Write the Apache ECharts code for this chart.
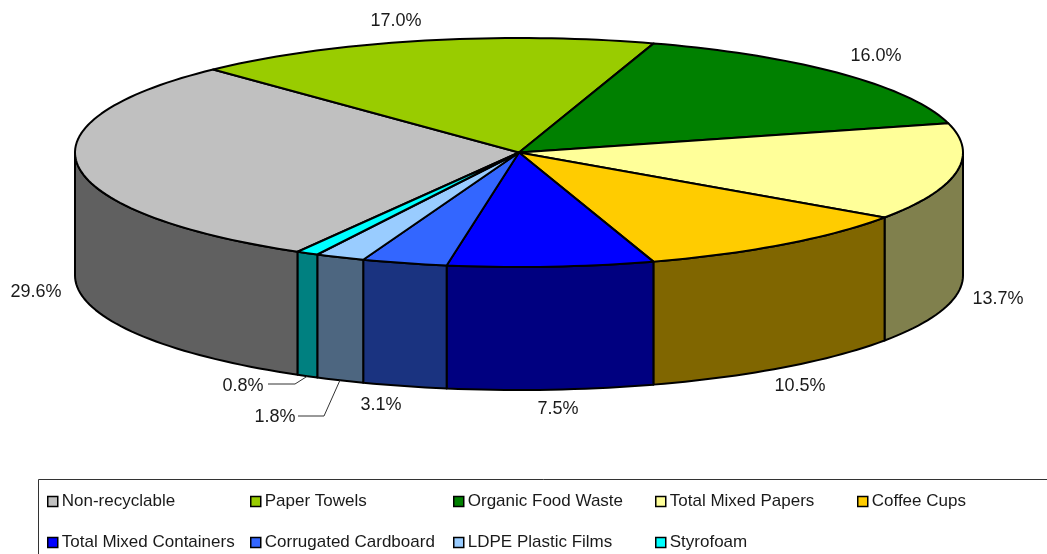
<!DOCTYPE html>
<html>
<head>
<meta charset="utf-8">
<style>html,body{margin:0;padding:0;background:#fff}#chart{width:1047px;height:554px}</style>
<script src="https://cdn.jsdelivr.net/npm/echarts@6/dist/echarts.min.js"></script>
</head>
<body>
<div id="chart"></div>
<script>
var categories = ['Non-recyclable', 'Paper Towels', 'Organic Food Waste', 'Total Mixed Papers', 'Coffee Cups',
    'Total Mixed Containers', 'Corrugated Cardboard', 'LDPE Plastic Films', 'Styrofoam'];
var shares = [29.6, 17.0, 16.0, 13.7, 10.5, 7.5, 3.1, 1.8, 0.8];
var topColors = ['#c0c0c0', '#99cc00', '#008000', '#ffff99', '#ffcc00', '#0000ff', '#3366ff', '#99ccff', '#00ffff'];
var sideColors = ['#606060', '#4d6600', '#004000', '#80804d', '#806600', '#000080', '#1a3380', '#4d6680', '#008080'];

// pie geometry, angles in degrees clockwise from the top of the ellipse
var cx = 519, cy = 152.5, rx = 444, ry = 114.5, depth = 123, startAngle = 209.9;
var labelPos = [[36, 292], [396, 21], [876, 56], [998, 299], [800, 386], [558, 409], [381, 405], [275, 417], [243, 386]];
// elbow of the leader line and where it meets the label, only the two small slices have one
var leaders = {7: [[324, 416], [298, 416]], 8: [[295, 384], [268, 384]]};
var legendCols = [47, 250, 453, 655, 857];
var legendRows = [493, 534];

var total = 0;
shares.forEach(function (v) { total += v; });

function sliceStart(idx) {
    var sum = 0;
    for (var i = 0; i < idx; i++) sum += shares[i];
    return startAngle + sum / total * 360;
}

function rim(deg, drop) {
    var a = deg * Math.PI / 180;
    return [cx + rx * Math.sin(a), cy - ry * Math.cos(a) + (drop || 0)];
}

function arcPoints(from, to, drop) {
    var pts = [];
    var n = Math.max(2, Math.ceil((to - from) / 1.5));
    for (var i = 0; i <= n; i++) pts.push(rim(from + (to - from) * i / n, drop));
    return pts;
}

function renderSlice(idx) {
    return function (params, api) {
        var from = sliceStart(idx);
        var to = from + api.value(0) / total * 360;
        var children = [];
        var stroke = {stroke: '#000', lineWidth: 2, lineJoin: 'round'};

        // only the part of the wall in the front half of the ellipse shows
        var ranges = [[from, to], [from + 360, to + 360], [from - 360, to - 360]];
        ranges.forEach(function (r) {
            var a = Math.max(r[0], 90), b = Math.min(r[1], 270);
            if (b <= a) return;
            children.push({
                type: 'polygon',
                shape: {points: arcPoints(a, b, 0).concat(arcPoints(a, b, depth).reverse())},
                style: Object.assign({fill: sideColors[idx]}, stroke)
            });
        });

        children.push({
            type: 'polygon',
            shape: {points: [[cx, cy]].concat(arcPoints(from, to, 0))},
            style: Object.assign({fill: topColors[idx]}, stroke)
        });

        if (leaders[idx]) {
            var mid = (from + to) / 2;
            children.push({
                type: 'polyline',
                shape: {points: [rim(mid, depth)].concat(leaders[idx])},
                style: {stroke: '#333', lineWidth: 1, fill: null}
            });
        }

        children.push({
            type: 'text',
            z2: 10,
            style: {
                x: labelPos[idx][0], y: labelPos[idx][1],
                text: api.value(0).toFixed(1) + '%',
                fill: '#1a1a1a',
                font: '18px "Liberation Sans", Arial, sans-serif',
                align: 'center', verticalAlign: 'middle'
            }
        });
        return {type: 'group', children: children};
    };
}

var series = [], legends = [];
categories.forEach(function (name, i) {
    series.push({
        name: name,
        type: 'custom',
        coordinateSystem: 'none',
        silent: true,
        animation: false,
        clip: false,
        itemStyle: {color: topColors[i]},
        data: [[shares[i]]],
        renderItem: renderSlice(i)
    });
    legends.push({
        data: [name],
        left: legendCols[i % 5],
        top: legendRows[Math.floor(i / 5)],
        padding: 0,
        selectedMode: false,
        icon: 'rect',
        itemWidth: 10,
        itemHeight: 10,
        itemGap: 0,
        itemStyle: {borderColor: '#000', borderWidth: 1.5},
        textStyle: {
            color: '#1a1a1a',
            fontFamily: '"Liberation Sans", Arial, sans-serif',
            fontSize: 17,
            padding: [0, 0, 0, -1]
        }
    });
});

var myChart = echarts.init(document.getElementById('chart'), null, {renderer: 'canvas'});
myChart.setOption({
    backgroundColor: '#fff',
    animation: false,
    tooltip: {show: false},
    legend: legends,
    graphic: [{
        type: 'rect',
        silent: true,
        z: -1,
        shape: {x: 38.5, y: 479.5, width: 1100, height: 200},
        style: {fill: '#fff', stroke: '#333', lineWidth: 1}
    }],
    series: series
});
</script>
</body>
</html>
